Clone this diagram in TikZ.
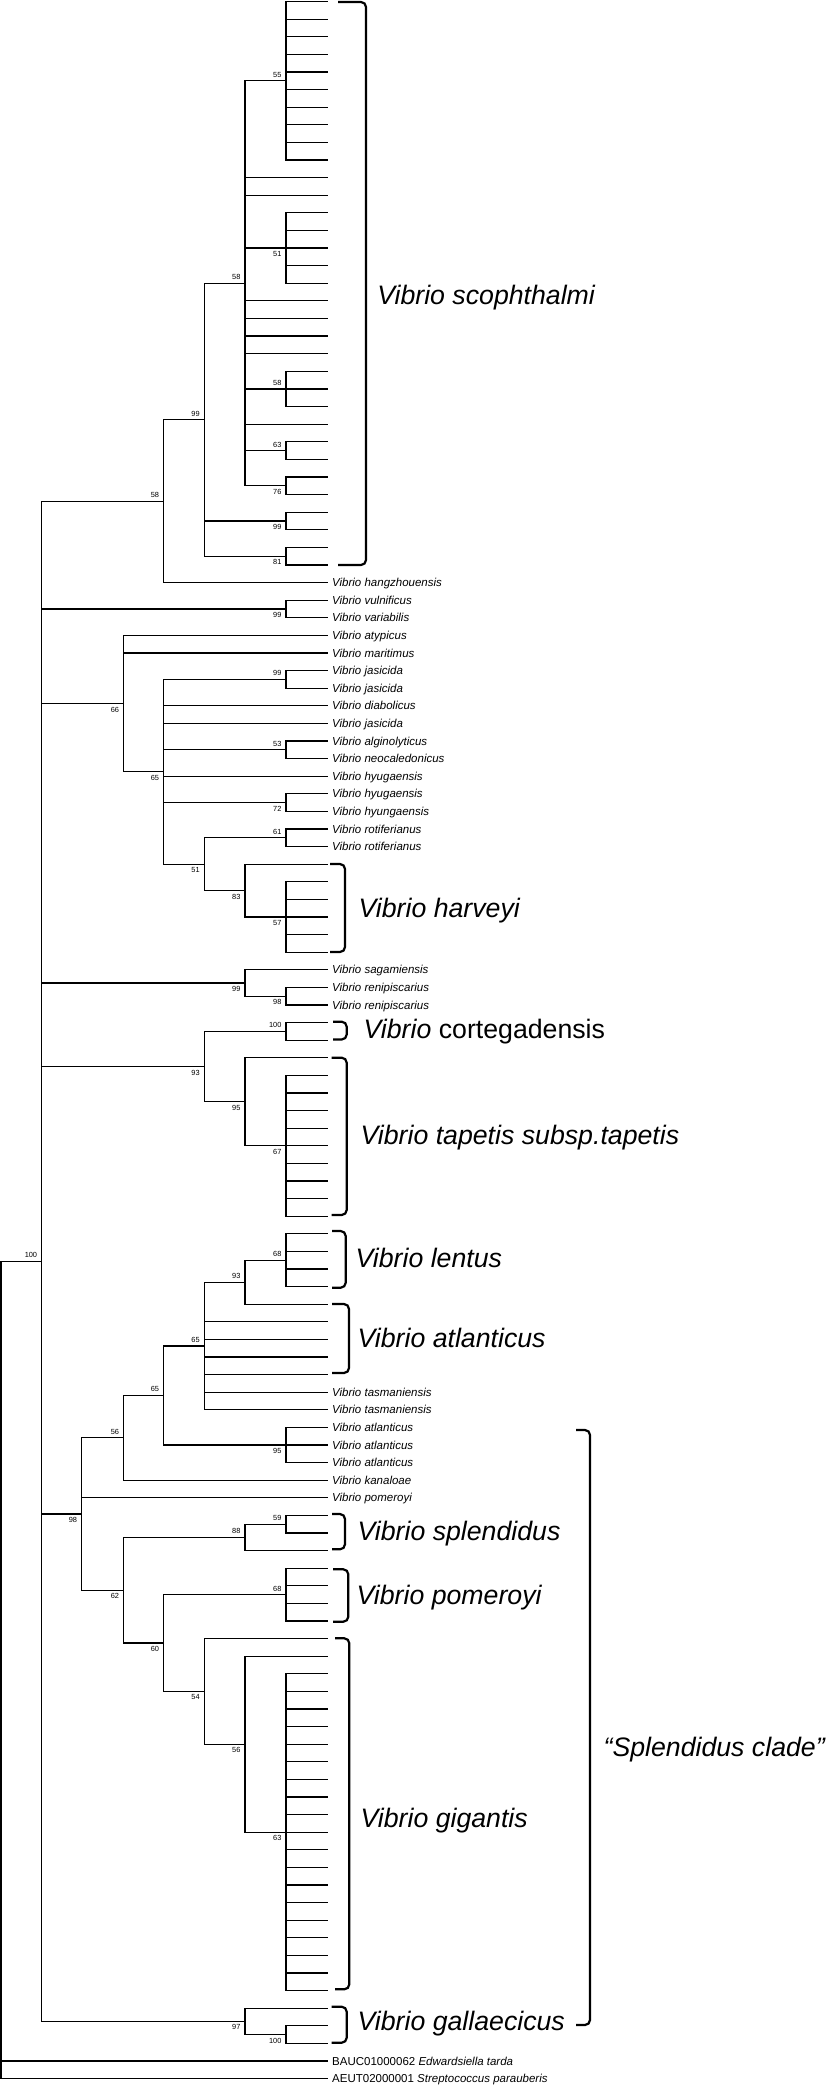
\documentclass[tikz,border=0pt]{standalone}
\usepackage{fontspec}
\setmainfont{Liberation Sans}
\newcommand\bsfont{\fontsize{3.7}{4}\selectfont}
\newcommand\leaffont{\fontsize{5.75}{6}\selectfont\itshape}
\newcommand\cladefont{\fontsize{13.35}{15}\selectfont\itshape}
\begin{document}
\begin{tikzpicture}[x=0.5pt,y=-0.5pt,line width=0.6pt,
  bsup/.style={anchor=south east,inner sep=0pt,font=\bsfont,xshift=-2pt,yshift=1.4pt},
  bsdn/.style={anchor=north east,inner sep=0pt,font=\bsfont,xshift=-2pt,yshift=-1.4pt},
  leaflab/.style={anchor=base west,inner sep=0pt,font=\leaffont,xshift=1.8pt,yshift=-2.06pt},
  cladelab/.style={anchor=base west,inner sep=0pt,font=\cladefont},
  bracket/.style={line width=1.1pt,rounded corners=2.5pt}]
\useasboundingbox (0,0) rectangle (827,2086);

% leaves
\foreach \i in {0,...,118}
  \coordinate (l\i) at (328,{1.7+17.6*\i});

% internal nodes
\coordinate (a55) at (286,80.9);
\coordinate (a51) at (286,248.1);
\coordinate (a58i) at (286,388.9);
\coordinate (a63) at (286,450.5);
\coordinate (a76) at (286,485.7);
\coordinate (a58) at (245,283.3);
\coordinate (a99s) at (286,520.9);
\coordinate (a81) at (286,556.1);
\coordinate (a99) at (204.3,419.7);
\coordinate (b58) at (163.7,501.1);
\coordinate (c99) at (286,608.9);
\coordinate (d99) at (286,679.3);
\coordinate (d53) at (286,749.7);
\coordinate (d72) at (286,802.5);
\coordinate (d61) at (286,837.7);
\coordinate (d57) at (286,916.9);
\coordinate (d83) at (245,890.5);
\coordinate (d51) at (204.3,864.1);
\coordinate (d65) at (163.7,771.7);
\coordinate (d66) at (123.7,703.5);
\coordinate (e98) at (286,996.1);
\coordinate (e99) at (245,982.9);
\coordinate (f100) at (286,1031.3);
\coordinate (f67) at (286,1145.7);
\coordinate (f95) at (245,1101.7);
\coordinate (f93) at (204.3,1066.5);
\coordinate (g68) at (286,1260.1);
\coordinate (g93) at (245,1282.1);
\coordinate (g65a) at (204.3,1345.9);
\coordinate (g95) at (286,1444.9);
\coordinate (g65b) at (163.7,1395.4);
\coordinate (g56) at (123.7,1437.75);
\coordinate (h59) at (286,1524.1);
\coordinate (h88) at (245,1537.3);
\coordinate (h68) at (286,1594.5);
\coordinate (h63) at (286,1832.1);
\coordinate (h56) at (245,1744.1);
\coordinate (h54) at (204.3,1691.3);
\coordinate (h60) at (163.7,1642.9);
\coordinate (h62) at (123.7,1590.1);
\coordinate (g98) at (81.7,1513.9);
\coordinate (k100) at (286,2034.5);
\coordinate (k97) at (245,2021.3);
\coordinate (m100) at (41.7,1261.2);
\coordinate (root) at (1,1669.9);

% branches, one path per parent
\draw foreach \i in {0,...,9} {(a55) |- (l\i)};
\draw foreach \i in {12,...,16} {(a51) |- (l\i)};
\draw foreach \i in {21,22,23} {(a58i) |- (l\i)};
\draw foreach \c in {l25,l26} {(a63) |- (\c)};
\draw foreach \c in {l27,l28} {(a76) |- (\c)};
\draw foreach \c in {a55,l10,l11,a51,l17,l18,l19,l20,a58i,l24,a63,a76} {(a58) |- (\c)};
\draw foreach \c in {l29,l30} {(a99s) |- (\c)};
\draw foreach \c in {l31,l32} {(a81) |- (\c)};
\draw foreach \c in {a58,a99s,a81} {(a99) |- (\c)};
\draw foreach \c in {a99,l33} {(b58) |- (\c)};
\draw foreach \c in {l34,l35} {(c99) |- (\c)};
\draw foreach \c in {l38,l39} {(d99) |- (\c)};
\draw foreach \c in {l42,l43} {(d53) |- (\c)};
\draw foreach \c in {l45,l46} {(d72) |- (\c)};
\draw foreach \c in {l47,l48} {(d61) |- (\c)};
\draw foreach \i in {50,...,54} {(d57) |- (l\i)};
\draw foreach \c in {l49,d57} {(d83) |- (\c)};
\draw foreach \c in {d61,d83} {(d51) |- (\c)};
\draw foreach \c in {d99,l40,l41,d53,l44,d72,d51} {(d65) |- (\c)};
\draw foreach \c in {l36,l37,d65} {(d66) |- (\c)};
\draw foreach \c in {l56,l57} {(e98) |- (\c)};
\draw foreach \c in {l55,e98} {(e99) |- (\c)};
\draw foreach \c in {l58,l59} {(f100) |- (\c)};
\draw foreach \i in {61,...,69} {(f67) |- (l\i)};
\draw foreach \c in {l60,f67} {(f95) |- (\c)};
\draw foreach \c in {f100,f95} {(f93) |- (\c)};
\draw foreach \i in {70,...,73} {(g68) |- (l\i)};
\draw foreach \c in {g68,l74} {(g93) |- (\c)};
\draw foreach \c in {g93,l75,l76,l77,l78,l79,l80} {(g65a) |- (\c)};
\draw foreach \i in {81,82,83} {(g95) |- (l\i)};
\draw foreach \c in {g65a,g95} {(g65b) |- (\c)};
\draw foreach \c in {g65b,l84} {(g56) |- (\c)};
\draw foreach \c in {l86,l87} {(h59) |- (\c)};
\draw foreach \c in {h59,l88} {(h88) |- (\c)};
\draw foreach \i in {89,...,92} {(h68) |- (l\i)};
\draw foreach \i in {95,...,113} {(h63) |- (l\i)};
\draw foreach \c in {l94,h63} {(h56) |- (\c)};
\draw foreach \c in {l93,h56} {(h54) |- (\c)};
\draw foreach \c in {h68,h54} {(h60) |- (\c)};
\draw foreach \c in {h88,h60} {(h62) |- (\c)};
\draw foreach \c in {g56,l85,h62} {(g98) |- (\c)};
\draw foreach \c in {l115,l116} {(k100) |- (\c)};
\draw foreach \c in {l114,k100} {(k97) |- (\c)};
\draw foreach \c in {b58,c99,d66,e99,f93,g98,k97} {(m100) |- (\c)};
\draw foreach \c in {m100,l117,l118} {(root) |- (\c)};

% bootstrap values
\foreach \n/\v in {a55/55,a58/58,a58i/58,a63/63,a99/99,b58/58,d99/99,d53/53,d61/61,
  f100/100,m100/100,g68/68,g93/93,g65a/65,g65b/65,g56/56,h59/59,h88/88,h68/68}
  \node[bsup] at (\n) {\v};
\foreach \n/\v in {a51/51,a76/76,a99s/99,a81/81,c99/99,d66/66,d65/65,d72/72,d51/51,
  d83/83,d57/57,e99/99,e98/98,f93/93,f95/95,f67/67,g95/95,g98/98,h62/62,h60/60,
  h54/54,h56/56,h63/63,k97/97,k100/100}
  \node[bsdn] at (\n) {\v};

% leaf names
\foreach \i/\sp in {33/hangzhouensis,34/vulnificus,35/variabilis,36/atypicus,
  37/maritimus,38/jasicida,39/jasicida,40/diabolicus,41/jasicida,42/alginolyticus,
  43/neocaledonicus,44/hyugaensis,45/hyugaensis,46/hyungaensis,47/rotiferianus,
  48/rotiferianus,55/sagamiensis,56/renipiscarius,57/renipiscarius,79/tasmaniensis,
  80/tasmaniensis,81/atlanticus,82/atlanticus,83/atlanticus,84/kanaloae,85/pomeroyi}
  \node[leaflab] (t\i) at (l\i) {Vibrio \sp};
\node[leaflab] (t117) at (l117) {\upshape BAUC01000062 \itshape Edwardsiella tarda};
\node[leaflab] (t118) at (l118) {\upshape AEUT02000001 \itshape Streptococcus parauberis};

% clade brackets
\draw[bracket] (338,2) -- (366,2) -- (366,565) -- (338,565);
\draw[bracket] (330,864) -- (345,864) -- (345,952) -- (330,952);
\draw[bracket] (333,1021.7) -- (346.7,1021.7) -- (346.7,1039.5) -- (333,1039.5);
\draw[bracket] (331.7,1057.7) -- (346.7,1057.7) -- (346.7,1215) -- (331.7,1215);
\draw[bracket] (332,1231) -- (345.7,1231) -- (345.7,1287.7) -- (332,1287.7);
\draw[bracket] (332,1304) -- (349,1304) -- (349,1373) -- (332,1373);
\draw[bracket] (332,1514) -- (345,1514) -- (345,1549.3) -- (332,1549.3);
\draw[bracket] (333,1569.3) -- (348.3,1569.3) -- (348.3,1621.7) -- (333,1621.7);
\draw[bracket] (335,1638.3) -- (349.3,1638.3) -- (349.3,1989.3) -- (335,1989.3);
\draw[bracket] (331.7,2006.7) -- (346.7,2006.7) -- (346.7,2042.7) -- (331.7,2042.7);
\draw[bracket] (576,1430) -- (590,1430) -- (590,2025) -- (576,2025);

% clade names
\node[cladelab] (scoph) at (376.7,304.6) {Vibrio scophthalmi};
\node[cladelab] (harv) at (358,917.6) {Vibrio harveyi};
\node[cladelab] (corte) at (363,1038.6) {Vibrio \upshape cortegadensis};
\node[cladelab] (tapet) at (360,1144.6) {Vibrio tapetis subsp.tapetis};
\node[cladelab] (lent) at (355,1267.6) {Vibrio lentus};
\node[cladelab] (atlan) at (357,1347.6) {Vibrio atlanticus};
\node[cladelab] (splen) at (357,1540.6) {Vibrio splendidus};
\node[cladelab] (pomer) at (356,1604.6) {Vibrio pomeroyi};
\node[cladelab] (gigan) at (360,1827.6) {Vibrio gigantis};
\node[cladelab] (gallae) at (357,2030.6) {Vibrio gallaecicus};
\node[cladelab] (splcl) at (603,1756.6) {“Splendidus clade”};
\end{tikzpicture}
\end{document}
